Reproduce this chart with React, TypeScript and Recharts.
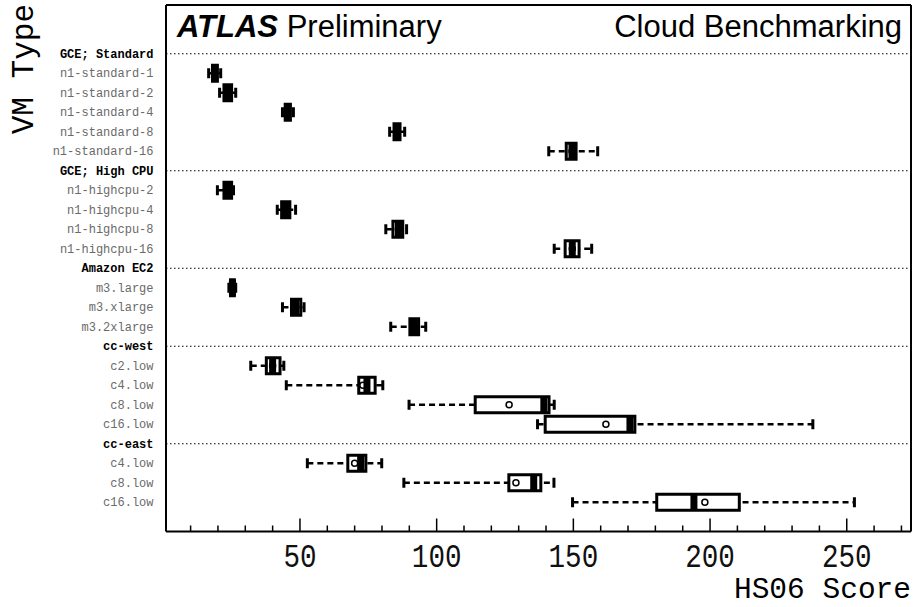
import React from 'react';
import { ComposedChart, Bar, Scatter, XAxis, YAxis, ReferenceLine } from 'recharts';

// row labels, top to bottom
const rowLabels = [
  'GCE; Standard', 'n1-standard-1', 'n1-standard-2', 'n1-standard-4', 'n1-standard-8', 'n1-standard-16',
  'GCE; High CPU', 'n1-highcpu-2', 'n1-highcpu-4', 'n1-highcpu-8', 'n1-highcpu-16',
  'Amazon EC2', 'm3.large', 'm3.xlarge', 'm3.2xlarge',
  'cc-west', 'c2.low', 'c4.low', 'c8.low', 'c16.low',
  'cc-east', 'c4.low', 'c8.low', 'c16.low',
];
const headerRows = ['GCE; Standard', 'GCE; High CPU', 'Amazon EC2', 'cc-west', 'cc-east'];

// HS06 score per VM type (null on group header rows)
const whiskerLow = [null, 16.6, 20.6, 43.6, 82.8, 141, null, 19.8, 41.7, 81.4, 143, null, 24, 43.6, 83.2, null, 32, 45, 89.9, 136.9, null, 52.7, 88, 149.7];
const boxLow = [null, 18, 22.2, 44.6, 84.4, 147.4, null, 22.2, 43.3, 84, 147, null, 24.6, 46.9, 90.2, null, 37.7, 71.5, 114.1, 139.7, null, 67.5, 126.4, 180.5];
const medians = [null, 18.8, 23.5, 45.5, 85.4, 149.5, null, 23.7, 44.8, 86, 149.6, null, 25.3, 48.5, 91.8, null, 40, 74.5, 139.2, 170.7, null, 72.2, 135.5, 194.1];
const boxHigh = [null, 19.8, 25, 46.5, 86.6, 151, null, 25, 46.3, 87.6, 152.1, null, 26, 50.3, 93.4, null, 42.7, 77.5, 141.1, 172.5, null, 74.1, 138.1, 210.7];
const whiskerHigh = [null, 21, 26.5, 47.6, 88.3, 158.9, null, 25.7, 48.4, 89, 156.7, null, 26.5, 51.5, 96, null, 44.1, 80.3, 143, 237.6, null, 79.9, 142.9, 252.8];
const means = [null, 18.8, 23.5, 45.5, 85.4, 149.5, null, 23.7, 44.8, 86, 149.6, null, 25.3, 48.5, 91.8, null, 40, 73, 126.5, 161.9, null, 70, 129, 198.1];

const xTicks = [10, 20, 30, 40, 50, 60, 70, 80, 90, 100, 110, 120, 130, 140, 150, 160, 170, 180, 190, 200, 210, 220, 230, 240, 250, 260, 270];

const rows = rowLabels.map((label, i) => ({
  id: `r${i}`,
  label,
  header: headerRows.includes(label) && whiskerLow[i] === null,
  lo: whiskerLow[i],
  q1: boxLow[i],
  median: medians[i],
  q3: boxHigh[i],
  hi: whiskerHigh[i],
  mean: means[i],
}));

const mono = '"Liberation Mono", "DejaVu Sans Mono", monospace';
const sans = '"Liberation Sans", Arial, sans-serif';

const WhiskerShape = (p: any) => {
  const { x, y, width, height, payload } = p;
  if (!payload || payload.header) return <g />;
  const cy = y + height / 2;
  return (
    <g>
      <line x1={x} x2={x + width} y1={cy} y2={cy} stroke="#000" strokeWidth={2.5} strokeDasharray="6 4" />
      <line x1={x} x2={x} y1={cy - 5} y2={cy + 5} stroke="#000" strokeWidth={3} />
      <line x1={x + width} x2={x + width} y1={cy - 5} y2={cy + 5} stroke="#000" strokeWidth={3} />
    </g>
  );
};

const BoxShape = (p: any) => {
  const { x, y, width, height, payload } = p;
  if (!payload || payload.header) return <g />;
  const cy = y + height / 2;
  return <rect x={x} y={cy - 8} width={width} height={16} fill="#fff" stroke="#000" strokeWidth={3} />;
};

const MedianShape = (p: any) => {
  const { cx, cy, payload } = p;
  if (!payload || payload.header || cx == null) return <g />;
  return <rect x={cx - 3.5} y={cy - 8} width={7} height={16} fill="#000" />;
};

const MeanShape = (p: any) => {
  const { cx, cy, payload } = p;
  if (!payload || payload.header || cx == null) return <g />;
  return <circle cx={cx} cy={cy} r={3} fill="#fff" stroke="#000" strokeWidth={1.5} />;
};

const XTick = (p: any) => {
  const { x, y, payload } = p;
  const v = payload.value;
  const major = v % 50 === 0;
  return (
    <g>
      <line x1={x} x2={x} y1={y} y2={y - (major ? 13 : 6)} stroke="#000" strokeWidth={1.5} />
      {major && (
        <text
          transform={`translate(${x},${y + 35}) scale(0.92,1.08)`}
          textAnchor="middle"
          fontFamily={mono}
          fontSize={30}
          fill="#111"
        >
          {v}
        </text>
      )}
    </g>
  );
};

const YTick = (p: any) => {
  const { x, y, payload } = p;
  const row = rows.find((r) => r.id === payload.value);
  if (!row) return <g />;
  return (
    <text
      x={x}
      y={y}
      dy={4}
      textAnchor="end"
      fontFamily={mono}
      fontSize={12}
      fontWeight={row.header ? 'bold' : 'normal'}
      fill={row.header ? '#000' : '#6a6a6a'}
    >
      {row.label}
    </text>
  );
};

export default function App() {
  return (
    <div style={{ position: 'absolute', left: 0, top: 0, width: 917, height: 607, background: '#fff' }}>
      <ComposedChart
        width={917}
        height={607}
        data={rows}
        layout="vertical"
        margin={{ top: 4, right: 5, bottom: 0, left: 0 }}
        barGap={-17.5}
      >
        <XAxis
          type="number"
          domain={[1, 273.5]}
          allowDataOverflow
          ticks={xTicks}
          interval={0}
          height={75.5}
          tickSize={0}
          tickMargin={0}
          tickLine={false}
          axisLine={{ stroke: '#000', strokeWidth: 2 }}
          tick={(props: any) => <XTick {...props} />}
        />
        <XAxis
          xAxisId="top"
          orientation="top"
          type="number"
          domain={[0, 1]}
          height={1}
          tick={false}
          tickLine={false}
          axisLine={{ stroke: '#000', strokeWidth: 2 }}
        />
        <YAxis
          type="category"
          dataKey="id"
          width={166}
          interval={0}
          padding={{ top: 39, bottom: 19.5 }}
          tickSize={0}
          tickMargin={12.5}
          tickLine={false}
          axisLine={{ stroke: '#000', strokeWidth: 2 }}
          tick={(props: any) => <YTick {...props} />}
        />
        <YAxis
          yAxisId="right"
          orientation="right"
          type="number"
          domain={[0, 1]}
          width={1}
          tick={false}
          tickLine={false}
          axisLine={{ stroke: '#000', strokeWidth: 2 }}
        />
        {rows.filter((r) => r.header).map((r) => (
          <ReferenceLine key={r.id} y={r.id} stroke="#000" strokeWidth={1.2} strokeDasharray="1.5 2.5" />
        ))}
        <Bar
          dataKey={(d: any) => (d.header ? null : [d.lo, d.hi])}
          barSize={17.5}
          shape={WhiskerShape}
          isAnimationActive={false}
        />
        <Bar
          dataKey={(d: any) => (d.header ? null : [d.q1, d.q3])}
          barSize={17.5}
          shape={BoxShape}
          isAnimationActive={false}
        />
        <Scatter dataKey="mean" shape={MeanShape} isAnimationActive={false} />
        <Scatter dataKey="median" shape={MedianShape} isAnimationActive={false} />
      </ComposedChart>
      <svg
        width={917}
        height={607}
        style={{ position: 'absolute', left: 0, top: 0, pointerEvents: 'none' }}
      >
        <text x={177} y={37} fontFamily={sans} fontSize={31} fill="#000">
          <tspan fontWeight="bold" fontStyle="italic">ATLAS</tspan>
          <tspan> Preliminary</tspan>
        </text>
        <text x={902} y={37} textAnchor="end" fontFamily={sans} fontSize={31} fill="#000">
          Cloud Benchmarking
        </text>
        <text x={911} y={598} textAnchor="end" fontFamily={mono} fontSize={29.5} fill="#000">
          HS06 Score
        </text>
        <text
          transform="translate(33,4) rotate(-90)"
          textAnchor="end"
          fontFamily={mono}
          fontSize={31}
          fill="#000"
        >
          VM Type
        </text>
      </svg>
    </div>
  );
}
